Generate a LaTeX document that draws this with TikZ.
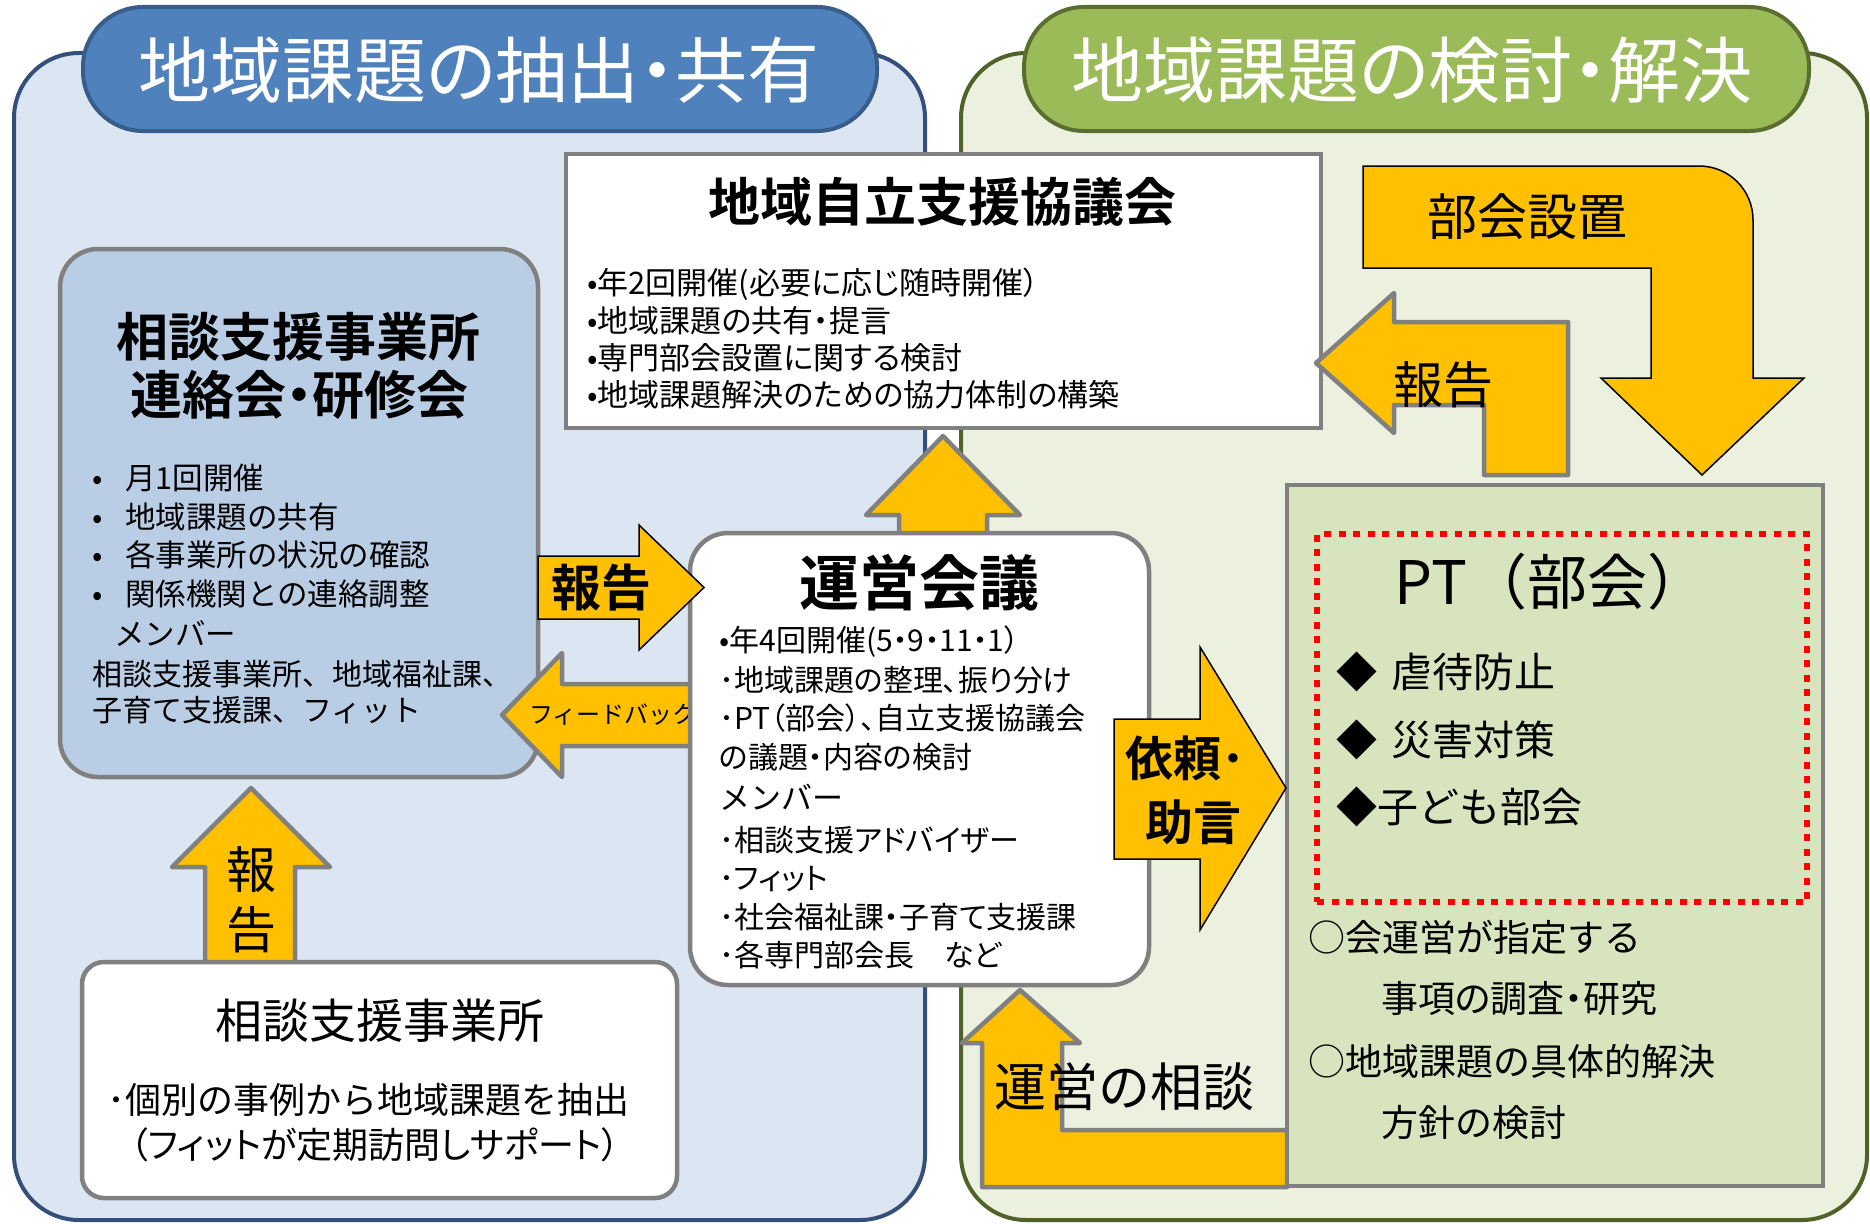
\documentclass[tikz,border=0pt]{standalone}
\usepackage{fontspec}
\setmainfont{Noto Sans CJK JP}[BoldFont={Noto Sans CJK JP Bold}]
\newfontfamily\pfont{Noto Sans CJK JP}[BoldFont={Noto Sans CJK JP Bold}, RawFeature=+palt]
\definecolor{bluedark}{HTML}{34507A}
\definecolor{bluelight}{HTML}{DCE6F2}
\definecolor{bluepill}{HTML}{4F81BD}
\definecolor{bluepillb}{HTML}{385D8A}
\definecolor{greendark}{HTML}{4F6228}
\definecolor{greenlight}{HTML}{EBF1DE}
\definecolor{greenpill}{HTML}{9BBB59}
\definecolor{boxblue}{HTML}{B9CDE5}
\definecolor{boxgray}{HTML}{808080}
\definecolor{arrowy}{HTML}{FFC000}
\definecolor{ptgreen}{HTML}{D7E4BD}
\tikzset{
  fs/.style={font=\fontsize{#1}{#1}\selectfont},
  fsb/.style={font=\fontsize{#1}{#1}\selectfont\bfseries},
  pfs/.style={font=\fontsize{#1}{#1}\pfont},
  pfsb/.style={font=\fontsize{#1}{#1}\pfont\bfseries},
  txt/.style={inner sep=0pt, text=black},
  panel/.style={line width=4pt, rounded corners=65pt, inner sep=0pt},
  pill/.style={line width=4pt, rounded corners=60pt, inner sep=0pt},
  box/.style={draw=boxgray, line width=4.5pt, inner sep=0pt},
  yarrow/.style={fill=arrowy, draw=black, line width=1.5pt, line join=miter},
  garrow/.style={fill=arrowy, draw=boxgray, line width=4.5pt, line join=round},
}
\begin{document}
\begin{tikzpicture}[x=1pt, y=-1pt]
\useasboundingbox (0,0) rectangle (1870,1223);
\fill[white] (0,0) rectangle (1870,1223);

% panels
\node[panel, draw=bluedark, fill=bluelight, minimum width=911pt, minimum height=1167pt] (panelL) at (469.5,636.5) {};
\node[panel, draw=greendark, fill=greenlight, minimum width=906pt, minimum height=1167pt] (panelR) at (1414,636.5) {};
\node[pill, draw=bluepillb, fill=bluepill, minimum width=794pt, minimum height=124pt] (pillL) at (480,69) {};
\node[pill, draw=greendark!85!greenpill, fill=greenpill, minimum width=785pt, minimum height=124pt] (pillR) at (1416.5,69) {};
\node[txt, text=white, pfs=72] (tL) at (479,70) {地域課題の抽出・共有};
\node[txt, text=white, pfs=72] (tR) at (1412,70) {地域課題の検討・解決};

% 地域自立支援協議会
\node[box, fill=white, minimum width=755pt, minimum height=274pt] (kyo) at (943.5,291) {};
\node[txt, fsb=52] (kyT) at (942,202) {地域自立支援協議会};
\node[txt, pfs=31, anchor=west] (ky1) at (587,284) {•年2回開催(必要に応じ随時開催）};
\node[txt, pfs=31, anchor=west] (ky2) at (587,321) {•地域課題の共有・提言};
\node[txt, pfs=31, anchor=west] (ky3) at (587,358) {•専門部会設置に関する検討};
\node[txt, pfs=31, anchor=west] (ky4) at (587,395) {•地域課題解決のための協力体制の構築};

% 相談支援事業所連絡会・研修会
\node[box, fill=boxblue, rounded corners=38pt, minimum width=478pt, minimum height=528pt] (renraku) at (299,513) {};
\node[txt, fsb=52] (rk1) at (298,337) {相談支援事業所};
\node[txt, pfsb=52] (rk2) at (299,395) {連絡会・研修会};
\node[txt, fs=30.5, anchor=west] (rkb1) at (92,478) {\makebox[33pt][l]{•}月1回開催};
\node[txt, fs=30.5, anchor=west] (rkb2) at (92,517) {\makebox[33pt][l]{•}地域課題の共有};
\node[txt, fs=30.5, anchor=west] (rkb3) at (92,555) {\makebox[33pt][l]{•}各事業所の状況の確認};
\node[txt, fs=30.5, anchor=west] (rkb4) at (92,594) {\makebox[33pt][l]{•}関係機関との連絡調整};
\node[txt, fs=30.5, anchor=west] (rkm) at (114,633) {メンバー};
\node[txt, fs=30, anchor=west] (rkm1) at (92,674) {相談支援事業所、地域福祉課、};
\node[txt, fs=30, anchor=west] (rkm2) at (92,710) {子育て支援課、フィット};

% feedback arrow (under 運営会議 box)
\draw[garrow] (695,684) -- (562,684) -- (562,653) -- (502,715) -- (562,777) -- (562,746) -- (695,746) -- cycle;
\node[txt, fs=24] (fb) at (613,715) {フィードバック};

% up arrow 運営会議 -> 協議会
\draw[garrow] (899,535) -- (899,515) -- (866,515) -- (943,436) -- (1020,515) -- (987,515) -- (987,535) -- cycle;

% 運営の相談 arrow (under PT box)
\draw[garrow] (1020,990) -- (1080,1043) -- (1062,1043) -- (1062,1130) -- (1287,1130) -- (1287,1187) -- (982,1187) -- (982,1043) -- (962,1043) -- cycle;

% 運営会議
\node[box, fill=white, rounded corners=38pt, minimum width=459pt, minimum height=452pt] (unei) at (919.5,759) {};
\node[txt, fsb=60] (unT) at (919,583) {運営会議};
\node[txt, pfs=30, anchor=west] (un1) at (719,642) {•年4回開催(5・9・11・1）};
\node[txt, pfs=30, anchor=west] (un2) at (719,680) {･地域課題の整理、振り分け};
\node[txt, pfs=30, anchor=west] (un3) at (719,718) {･PT（部会）、自立支援協議会};
\node[txt, pfs=30, anchor=west] (un4) at (719,757) {の議題・内容の検討};
\node[txt, fs=31, anchor=west] (un5) at (719,797) {メンバー};
\node[txt, pfs=30, anchor=west] (un6) at (719,840) {･相談支援アドバイザー};
\node[txt, pfs=30, anchor=west] (un7) at (719,879) {･フィット};
\node[txt, pfs=30, anchor=west] (un8) at (719,917) {･社会福祉課・子育て支援課};
\node[txt, pfs=30, anchor=west] (un9) at (719,955) {･各専門部会長　など};

% 報告 arrow (right)
\draw[yarrow] (538,556) -- (639,556) -- (639,525) -- (704,587.5) -- (639,650) -- (639,619) -- (538,619) -- cycle;
\node[txt, fsb=50] (hk1) at (601,588) {報告};

% PT box
\node[box, fill=ptgreen, minimum width=536pt, minimum height=701pt] (pt) at (1555,835.5) {};
\node[draw=red, line width=6.5pt, dash pattern=on 7pt off 7.5pt, inner sep=0pt, minimum width=490pt, minimum height=368pt] (ptdot) at (1562,718) {};
\node[txt, fs=60] (ptT) at (1551,582) {PT（部会）};
\node[txt, fs=41, anchor=west] (pt1) at (1336,672) {◆\hspace{14pt}虐待防止};
\node[txt, fs=41, anchor=west] (pt2) at (1336,740) {◆\hspace{14pt}災害対策};
\node[txt, fs=41, anchor=west] (pt3) at (1336,807) {◆子ども部会};
\node[txt, fs=37, anchor=west] (pt4) at (1308,937) {○会運営が指定する};
\node[txt, pfs=37, anchor=west] (pt5) at (1381,999) {事項の調査・研究};
\node[txt, fs=37, anchor=west] (pt6) at (1308,1061) {○地域課題の具体的解決};
\node[txt, fs=37, anchor=west] (pt7) at (1381,1122) {方針の検討};

% 依頼・助言 arrow
\draw[yarrow] (1114,719) -- (1200,719) -- (1200,647) -- (1286,788) -- (1200,930) -- (1200,859) -- (1114,859) -- cycle;
\node[txt, fsb=48, anchor=west] (irai1) at (1125,758) {依頼･};
\node[txt, fsb=48] (irai2) at (1193,822) {助言};

% 部会設置 arrow
\draw[yarrow] (1363,166) -- (1699,166) .. controls (1729,166) and (1753,190) .. (1753,220) -- (1753,378) -- (1804,378) -- (1702,475) -- (1601,378) -- (1651,378) -- (1651,268) -- (1363,268) -- cycle;
\node[txt, fs=50] (bks) at (1527,217) {部会設置};

% 報告 bent arrow to 協議会
\draw[garrow] (1316,363) -- (1394,293) -- (1394,322) -- (1568,322) -- (1568,475) -- (1484,475) -- (1484,405) -- (1394,405) -- (1394,433) -- cycle;
\node[txt, fs=50] (hk2) at (1443,385) {報告};

% 運営の相談 label
\node[txt, fs=52] (uns) at (1124,1087) {運営の相談};

% 報告 up arrow (bottom left)
\draw[garrow] (251,788) -- (330,867) -- (295,867) -- (295,964) -- (205,964) -- (205,867) -- (172,867) -- cycle;
\node[txt, fs=50] (hk3a) at (251,870) {報};
\node[txt, fs=50] (hk3b) at (251,930) {告};

% 相談支援事業所 box
\node[box, fill=white, rounded corners=22pt, minimum width=595pt, minimum height=236pt] (jigyo) at (379.5,1080) {};
\node[txt, fs=47] (sj) at (380,1021) {相談支援事業所};
\node[txt, fs=36, anchor=west] (sj1) at (107,1100) {･個別の事例から地域課題を抽出};
\node[txt, pfs=36] (sj2) at (375,1145) {（フィットが定期訪問しサポート）};
\end{tikzpicture}
\end{document}
